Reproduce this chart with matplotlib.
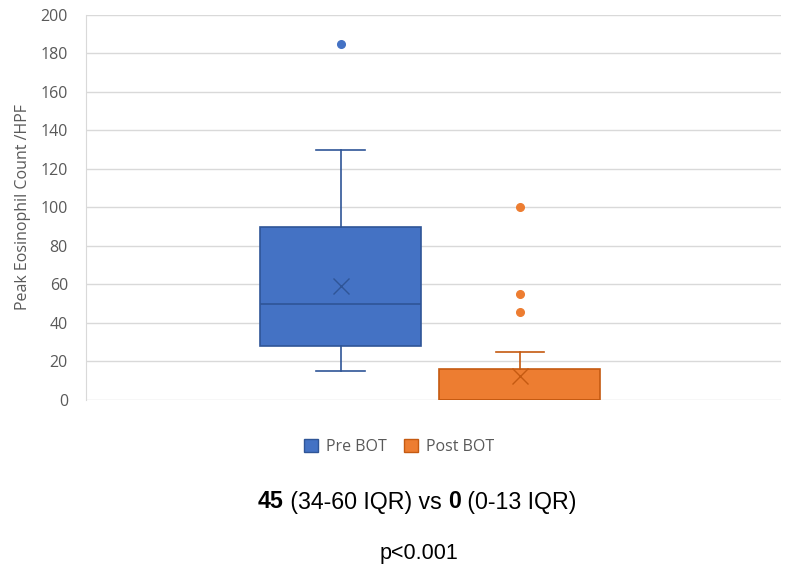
import matplotlib
matplotlib.use("Agg")
import matplotlib.pyplot as plt
from matplotlib.patches import Patch

groups = ["Pre BOT", "Post BOT"]
q1 = [28, 0]
med = [50, 0]
q3 = [90, 16]
whislo = [15, 0]
whishi = [130, 25]
means = [59, 12.5]
fliers = [[185], [100, 55, 45.5]]
fills = ["#4472C4", "#ED7D31"]
edges = ["#2F5597", "#C55A11"]
yticks = [0, 20, 40, 60, 80, 100, 120, 140, 160, 180, 200]

fig = plt.figure(figsize=(7.92, 5.72), dpi=100)
ax = fig.add_axes([0.1086, 0.3007, 0.878, 0.6731])

positions = [1, 2]
for i in range(2):
    st = [dict(med=med[i], q1=q1[i], q3=q3[i], whislo=whislo[i], whishi=whishi[i],
               mean=means[i], fliers=fliers[i], label=groups[i])]
    ax.bxp(st, positions=[positions[i]], widths=0.9, patch_artist=True,
           showmeans=True, showfliers=True,
           boxprops=dict(facecolor=fills[i], edgecolor=edges[i], linewidth=1.2),
           medianprops=dict(color=edges[i], linewidth=1.2),
           whiskerprops=dict(color=edges[i], linewidth=1.2),
           capprops=dict(color=edges[i], linewidth=1.2),
           capwidths=0.27,
           meanprops=dict(marker="x", markeredgecolor=edges[i], markersize=12, markeredgewidth=1.0),
           flierprops=dict(marker="o", markerfacecolor=fills[i], markeredgecolor=fills[i], markersize=5.5))

ax.set_xlim(-0.42, 3.46)
ax.set_ylim(0, 200)
ax.set_yticks(yticks)
ax.set_xticks([])
ax.yaxis.grid(True, color="#D9D9D9", linewidth=1.0)
ax.set_axisbelow(True)
for s in ["top", "right", "bottom"]:
    ax.spines[s].set_visible(False)
ax.spines["left"].set_color("#D9D9D9")
ax.tick_params(axis="y", length=0, labelsize=11.5, labelcolor="#595959", pad=13)
for lab in ax.get_yticklabels():
    lab.set_fontfamily("Open Sans")
ax.set_ylabel("Peak Eosinophil Count /HPF", fontsize=11.5, color="#595959",
              fontfamily="Open Sans", labelpad=7)

handles = [Patch(facecolor=fills[i], edgecolor=edges[i], label=groups[i]) for i in range(2)]
leg = fig.legend(handles=handles, loc="center", bbox_to_anchor=(0.504, 0.219), ncol=2,
                 frameon=False, prop=dict(family="Open Sans", size=11.5),
                 handlelength=0.85, handleheight=0.95, columnspacing=1.1, handletextpad=0.5)
for t in leg.get_texts():
    t.set_color("#595959")

# mixed bold annotation line
pieces = [("45", "bold"), (" (34-60 IQR) vs ", "normal"), ("0", "bold"), (" (0-13 IQR)", "normal")]
fig.canvas.draw()
r = fig.canvas.get_renderer()
texts = []
for s, w in pieces:
    t = fig.text(0, 1 - 502 / 572, s, fontsize=16.7, fontweight=w, fontfamily="Liberation Sans",
                 va="center", ha="left")
    texts.append(t)
widths = [t.get_window_extent(renderer=r).width for t in texts]
total = sum(widths)
x = 417 - total / 2
for t, wpx in zip(texts, widths):
    t.set_x(x / 792)
    x += wpx
fig.text(419 / 792, 1 - 554 / 572, "p<0.001", fontsize=15.5, fontfamily="Liberation Sans",
         ha="center", va="center")

fig.savefig("out.png", dpi=100)
